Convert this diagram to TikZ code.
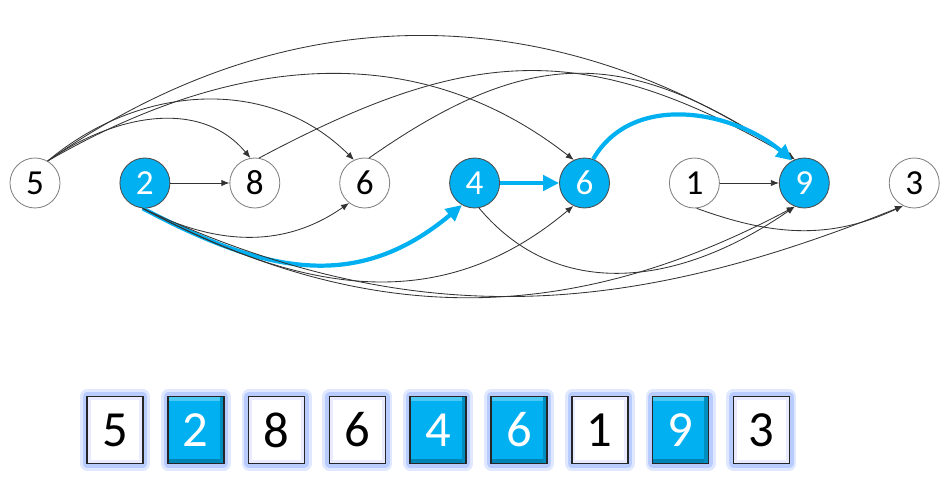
\documentclass[tikz,border=0pt]{standalone}
\usepackage{fontspec}
\setmainfont{Carlito}
\usetikzlibrary{arrows.meta,positioning}
\definecolor{skyblue}{HTML}{00B0F0}
\definecolor{glowblue}{HTML}{B8CCFF}
\definecolor{darkedge}{HTML}{333333}
\begin{document}
\begin{tikzpicture}[on grid,node distance=2.7475cm,
    vert/.style={circle,draw=black!50,line width=0.6pt,fill=white,minimum size=1.25cm,inner sep=0pt,font=\fontsize{25}{25}\selectfont},
    hvert/.style={vert,draw=black!70,fill=skyblue,text=white},
    cell/.style={rectangle,draw=black!85,line width=1.1pt,fill=white,minimum width=1.4cm,minimum height=1.675cm,inner sep=0pt,font=\fontsize{36}{36}\selectfont,
      preaction={draw=glowblue!45,line width=10pt,line join=round},
      preaction={draw=glowblue,line width=6pt,line join=round},
      path picture={\draw [blue!8,line width=5pt] (path picture bounding box.south west) rectangle (path picture bounding box.north east);}},
    hcell/.style={cell,fill=skyblue,text=white,
      path picture={\fill [skyblue!75!black] (path picture bounding box.south west) rectangle ([yshift=3pt]path picture bounding box.south east);
        \fill [skyblue!80!black] ([xshift=-3pt]path picture bounding box.south east) rectangle (path picture bounding box.north east);
        \fill [skyblue!70!white] ([yshift=-3pt]path picture bounding box.north west) rectangle ([xshift=-3pt]path picture bounding box.north east);}},
    edge/.style={darkedge,line width=0.6pt,-{Latex[length=2mm,width=1.6mm]}},
    hedge/.style={skyblue,line width=3pt,-{Triangle[length=4mm,width=3.8mm]}}]
    \useasboundingbox (0,0) rectangle (23.75,11.975);
    \node [vert] (v1) at (0.875,7.4) {5};
    \node [hvert,right=of v1] (v2) {2};
    \node [vert,right=of v2] (v3) {8};
    \node [vert,right=of v3] (v4) {6};
    \node [hvert,right=of v4] (v5) {4};
    \node [hvert,right=of v5] (v6) {6};
    \node [vert,right=of v6] (v7) {1};
    \node [hvert,right=of v7] (v8) {9};
    \node [vert,right=of v8] (v9) {3};
    \draw [edge] (v2) -- (v3);
    \draw [hedge] (v5) -- (v6);
    \draw [edge] (v7) -- (v8);
    \draw [edge] (v1.60) to [out=35,in=130] (v3.100);
    \draw [edge] (v1.60) to [out=40,in=135] (v4.115);
    \draw [edge] (v1.60) to [out=30,in=142] (v6.115);
    \draw [edge] (v1.60) to [out=35,in=146] (v8.112);
    \draw [edge] (v3.80) to [out=28,in=150,looseness=1.15] (v8.112);
    \draw [edge] (v4.80) to [out=35,in=146,looseness=1.2] (v8.112);
    \draw [hedge] (v6.70) to [out=60,in=140] (v8.118);
    \draw [edge] (v2.265) to [out=-27,in=-145] (v4.-128);
    \draw [hedge] (v2.265) to [out=-28,in=-140,looseness=1.1] (v5.-120);
    \draw [edge] (v2.265) to [out=-28,in=-140,looseness=1.05] (v6.-116);
    \draw [edge] (v2.265) to [out=-28,in=-152] (v8.-112);
    \draw [edge] (v2.265) to [out=-25,in=-158] (v9.-116);
    \draw [edge] (v5.-80) to [out=-50,in=-145,looseness=1.05] (v8.-112);
    \draw [edge] (v7.-85) to [out=-20,in=-155] (v9.-116);
    \node [cell] (c1) at (2.875,1.225) {5};
    \node [hcell,right=2.02cm of c1] (c2) {2};
    \node [cell,right=2.02cm of c2] (c3) {8};
    \node [cell,right=2.02cm of c3] (c4) {6};
    \node [hcell,right=2.02cm of c4] (c5) {4};
    \node [hcell,right=2.02cm of c5] (c6) {6};
    \node [cell,right=2.02cm of c6] (c7) {1};
    \node [hcell,right=2.02cm of c7] (c8) {9};
    \node [cell,right=2.02cm of c8] (c9) {3};
\end{tikzpicture}
\end{document}
